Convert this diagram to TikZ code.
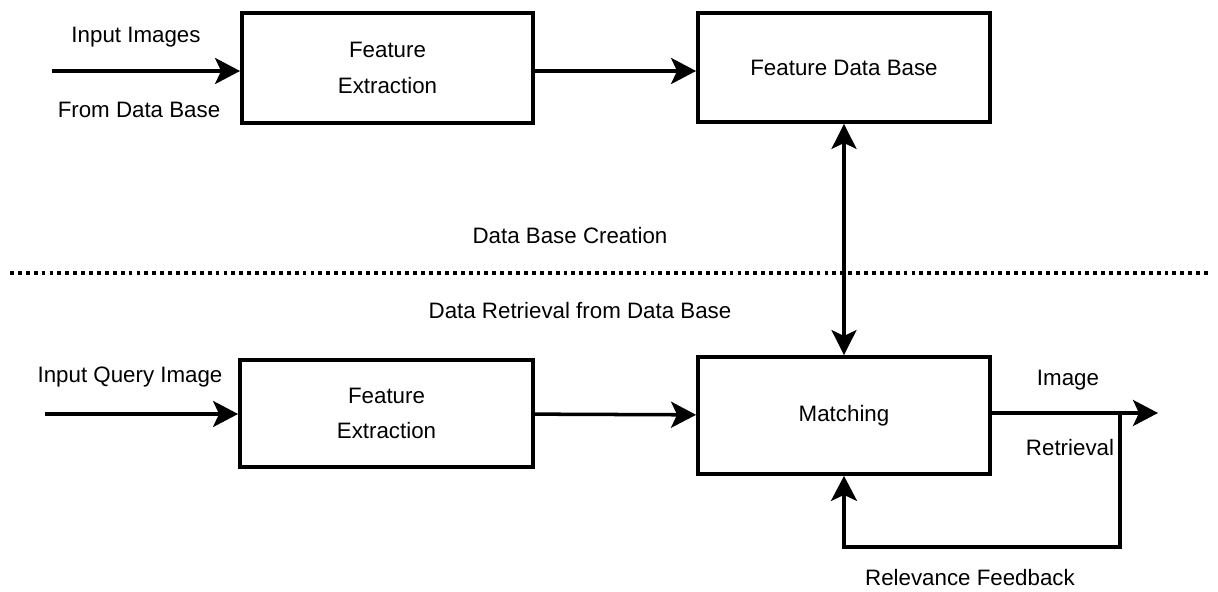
\documentclass[tikz,border=0pt]{standalone}
\usepackage{fontspec}
\setmainfont{Liberation Sans}
\usetikzlibrary{
    arrows.meta,
    calc
}
\tikzset{
  every path/.style={
    black,
    line width=2pt
  },
  every node/.style={
    font=\fontsize{12.7}{15}\selectfont,
    inner sep=1.5pt
  },
  block/.style={
    draw,
    rectangle,
    align=center,
    line width=2.2pt
  },
  arr/.style={
    -{Stealth[length=0.5cm,width=0.52cm,inset=0.12cm]}
  },
  darr/.style={
    {Stealth[length=0.5cm,width=0.5cm,inset=0.12cm]}-{Stealth[length=0.5cm,width=0.5cm,inset=0.12cm]}
  }
}

\begin{document}
\begin{tikzpicture}
    \useasboundingbox (0,0) rectangle (24.36,11.84);
    %-------------------------
    % Data Base Creation
    %-------------------------
    \node[block,minimum width=5.82cm,minimum height=2.2cm] (fe1) at (7.75,10.48) {Feature\\[5pt]Extraction};
    \node[block,minimum width=5.84cm,minimum height=2.18cm] (fdb) at (16.88,10.49) {Feature Data Base};

    \coordinate (in1) at (1.04,10.42);
    \draw[arr] (in1) -- (in1 -| fe1.west);
    \draw[arr] (fe1.east |- in1) -- (in1 -| fdb.west);

    \node (lin1) at (2.72,11.1) {Input Images};
    \node (lfrom) at (2.78,9.64) {From Data Base};

    %-------------------------
    % separator
    %-------------------------
    \coordinate (sepl) at (0.2,6.38);
    \coordinate (sepr) at (24.2,6.38);
    \draw[line width=2.2pt,dash pattern=on 2.2pt off 2.3pt] (sepl) -- (sepr);
    \node (lcreate) at (11.4,7.12) {Data Base Creation};
    \node (lretr) at (11.6,5.62) {Data Retrieval from Data Base};

    %-------------------------
    % Data Retrieval
    %-------------------------
    \node[block,minimum width=5.86cm,minimum height=2.14cm] (fe2) at (7.73,3.57) {Feature\\[5pt]Extraction};
    \node[block,minimum width=5.84cm,minimum height=2.34cm] (match) at (16.88,3.53) {Matching};

    \coordinate (in2) at (0.9,3.56);
    \draw[arr] (in2) -- (in2 -| fe2.west);
    \draw[arr] (fe2) -- (match);
    \node (lin2) at (2.6,4.3) {Input Query Image};

    \draw[darr] (fdb) -- (match);

    \coordinate (out) at (23.16,3.58);
    \coordinate (fb) at (22.4,3.58);
    \coordinate (fbl) at (22.4,0.9);
    \draw[arr] (match.east |- out) -- (out);
    \draw[arr] (fb) -- (fbl) -| (match.south);

    \node (limg) at (21.36,4.24) {Image};
    \node (lret) at (21.4,2.88) {Retrieval};
    \node (lrel) at (19.4,0.28) {Relevance Feedback};

\end{tikzpicture}
\end{document}
